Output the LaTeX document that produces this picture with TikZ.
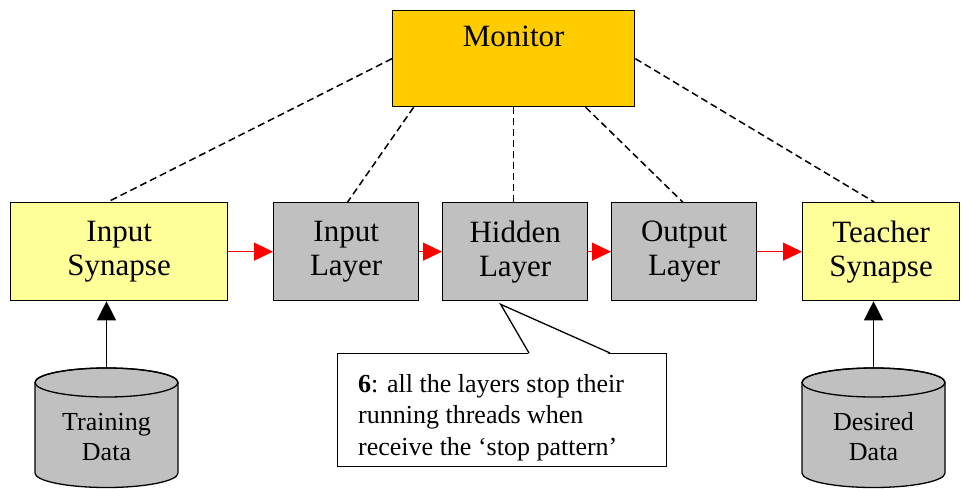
\documentclass[tikz,border=0pt]{standalone}
\usepackage{fontspec}
\setmainfont{Liberation Serif}
\usetikzlibrary{arrows.meta,calc}
\definecolor{synyellow}{HTML}{FFFF99}
\definecolor{laygray}{HTML}{C0C0C0}
\definecolor{monorange}{HTML}{FFCC00}
\tikzset{
  box/.style={draw, line width=1.3pt, minimum height=98pt, align=center,
    font=\fontsize{31}{34}\selectfont, anchor=north west, inner sep=0pt},
  redarrow/.style={draw=red, line width=1.2pt, -{Triangle[length=19pt,width=18pt,fill=red]}},
  blackarrow/.style={line width=1.2pt, -{Triangle[length=19pt,width=19pt]}},
  mondash/.style={line width=1.5pt, dash pattern=on 7pt off 4pt},
  cyltext/.style={align=center, font=\fontsize{26}{30}\selectfont, inner sep=0pt},
  dbcyl/.pic={
    \path[fill=laygray, draw, line width=1.3pt] (-71.5,0) -- (-71.5,90.5)
      arc[start angle=180,end angle=0,x radius=71.5,y radius=14.5] -- (71.5,0)
      arc[start angle=0,end angle=-180,x radius=71.5,y radius=14.5] -- cycle;
    \draw[line width=1.3pt] (0,0) ellipse[x radius=71.5,y radius=14.5];
  }
}
\begin{document}
\begin{tikzpicture}[x=1pt,y=-1pt]
\useasboundingbox (0,0) rectangle (961,488);
% monitor
\node[box, fill=monorange, minimum width=242pt, minimum height=96pt,
  label={[anchor=north, inner sep=0pt, yshift=-16pt, font=\fontsize{31}{34}\selectfont]north:Monitor}]
  (mon) at (392,10) {};
% row of boxes
\node[box, fill=synyellow, minimum width=217pt] (isyn) at (10,202) {Input\\Synapse};
\node[box, fill=laygray, minimum width=145pt] (il) at (273,202) {Input\\Layer};
\node[box, fill=laygray, minimum width=145pt] (hl) at (442,202) {Hidden\\Layer};
\node[box, fill=laygray, minimum width=145pt] (ol) at (611,202) {Output\\Layer};
\node[box, fill=synyellow, minimum width=157pt] (ts) at (802,202) {Teacher\\Synapse};
% red arrows
\draw[redarrow] (isyn.east) -- (il.west);
\draw[redarrow] (il.east) -- (hl.west);
\draw[redarrow] (hl.east) -- (ol.west);
\draw[redarrow] (ol.east) -- (ts.west);
% dashed monitor links
\draw[mondash] (mon.west) -- ([xshift=-11.5pt]isyn.north);
\draw[mondash] ([xshift=-100pt]mon.south) -- ([xshift=1.5pt]il.north);
\draw[mondash] (mon.south) -- (mon.south |- hl.north);
\draw[mondash] ([xshift=72pt]mon.south) -- ([xshift=-1.5pt]ol.north);
\draw[mondash] (mon.east) -- ([xshift=-7pt]ts.north);
% cylinders
\pic at (106.5,382.5) {dbcyl};
\coordinate (tdtop) at (106.5,368);
\node[cyltext] (td) at (106.5,437) {Training\\Data};
\pic at (873.5,382.5) {dbcyl};
\coordinate (ddtop) at (873.5,368);
\node[cyltext] (dd) at (873.5,437) {Desired\\Data};
\draw[blackarrow] (tdtop) -- (tdtop |- isyn.south);
\draw[blackarrow] (ddtop) -- (ddtop |- ts.south);
% callout
\node[draw, fill=white, line width=1.3pt, anchor=north west, minimum width=329pt,
  minimum height=113pt, inner sep=0pt] (call) at (337,353) {};
\coordinate (tip) at ([xshift=-14.5pt,yshift=-3pt]hl.south);
\fill[white] ([xshift=192pt,yshift=-1.5pt]call.north west) -- (tip) -- ([xshift=273pt,yshift=-1.5pt]call.north west) -- cycle;
\draw[line width=1.3pt, line join=miter] ([xshift=192pt]call.north west) -- (tip) -- ([xshift=273pt]call.north west);
\node[anchor=north west, align=left, inner sep=0pt, font=\fontsize{26}{31.5}\selectfont]
  (calltext) at (358,374) {\textbf{6}: all the layers stop their\\running threads when\\receive the ‘stop pattern’};
\end{tikzpicture}
\end{document}
